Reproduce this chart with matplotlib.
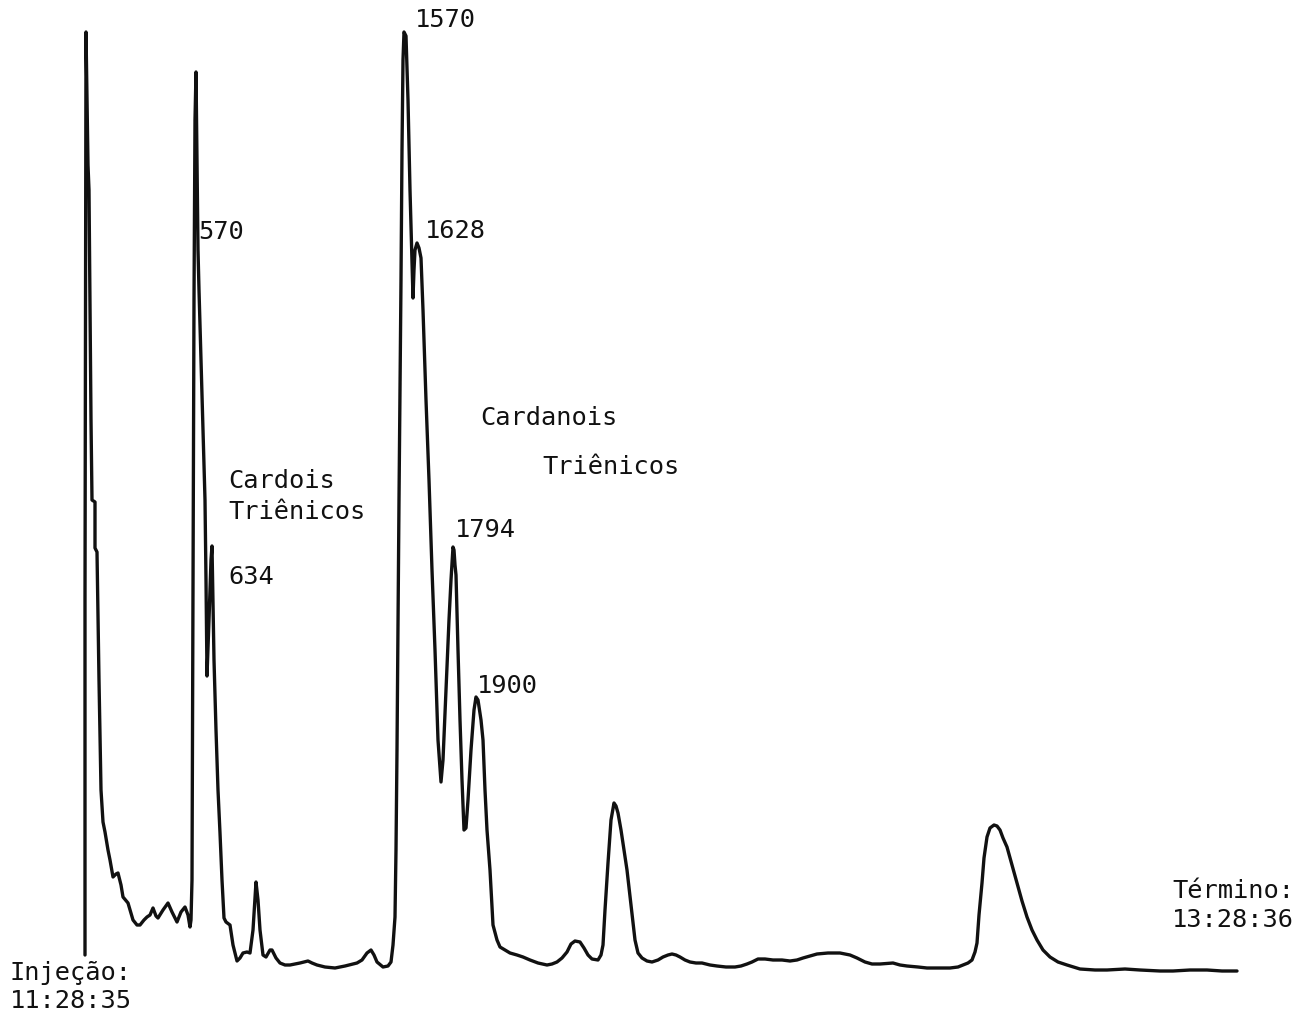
import matplotlib
matplotlib.use("Agg")
import matplotlib.pyplot as plt

# Chromatogram trace (retention in chart units, detector deflection above baseline)
retention = [
    85, 85, 86, 87, 88, 89, 90, 91, 92, 95, 95, 97, 99, 101, 103, 105, 108, 110, 113, 116,
    118, 121, 123, 128, 133, 137, 140, 144, 147, 150, 153, 156, 158, 163, 168, 172, 177, 181,
    185, 188, 190, 191, 192, 193, 194, 195, 196,
    197, 198, 199, 201, 203, 205, 206, 207, 209, 211, 212, 213, 214, 216, 218, 220, 222, 224,
    226, 230, 233, 237, 240, 243, 247, 250, 253, 256, 258, 260, 263, 266, 270, 272, 276, 280,
    285, 290, 300, 308, 312, 317, 325, 335, 345, 357, 362, 367, 371, 374, 377, 383, 388, 391,
    393, 395, 396, 397, 399, 401, 402, 403, 404,
    406, 408, 410, 412, 413, 414, 415, 417, 419, 421, 423, 426, 429, 432, 435, 438, 441, 443,
    446, 449, 451, 453, 454, 455, 456, 458, 460, 462, 464, 466, 468, 471, 474, 476, 478, 481,
    483, 485, 487, 490, 493, 497, 500, 505, 510, 517, 523, 530, 538, 547, 552, 557, 562, 567,
    571, 575, 580, 584, 588, 592, 598, 601, 603, 605, 608, 611, 614, 616, 618, 621, 624, 627,
    631, 635, 638, 642, 647, 652, 658, 663, 668, 672, 676, 680, 685, 690, 696, 702, 710, 717,
    726, 735, 741, 747, 752, 758, 765, 773, 782, 790, 797, 803, 810, 817, 828, 840, 850, 857,
    865, 872, 880, 893, 900, 907, 918, 927, 940, 950, 958, 963, 968, 972, 975, 977, 979, 982,
    984, 987, 990, 994, 997, 1000, 1003, 1007, 1012, 1017, 1022, 1027, 1032, 1037, 1043, 1050,
    1058, 1067, 1080, 1095, 1107, 1125, 1140, 1160, 1173, 1190, 1207, 1222, 1237,
]
signal = [
    16, 371, 939, 871, 806, 781, 671, 551, 471, 469, 423, 419, 291, 181, 149, 139, 121, 111, 94, 97,
    98, 86, 74, 68, 51, 46, 46, 51, 54, 56, 63, 55, 53, 61, 68, 59, 49, 59,
    64, 56, 44, 51, 91, 371, 671, 851, 899,
    811, 721, 681, 611, 541, 471, 391, 295, 351, 411, 425, 371, 311, 241, 181, 138, 91, 53,
    49, 46, 26, 10, 13, 18, 19, 18, 41, 89, 71, 41, 16, 14, 21, 21, 13, 8,
    6, 6, 8, 10, 8, 6, 4, 3, 5, 8, 11, 18, 21, 16, 9, 4, 5, 9,
    26, 54, 121, 221, 471, 691, 821, 911, 939,
    935, 871, 781, 711, 673, 701, 721, 728, 723, 713, 661, 571, 491, 401, 321, 231, 189, 211,
    281, 351, 391, 424, 421, 406, 396, 321, 251, 191, 141, 143, 171, 221, 261, 274, 271, 251,
    231, 181, 141, 101, 46, 31, 24, 21, 18, 16, 14, 11, 8, 6, 7, 9, 13, 19,
    27, 30, 29, 23, 16, 12, 11, 16, 26, 61, 108, 151, 168, 165, 158, 141, 121, 101,
    66, 31, 18, 13, 10, 9, 11, 14, 16, 17, 16, 14, 11, 9, 8, 8, 6, 5,
    4, 4, 5, 7, 9, 12, 12, 11, 11, 10, 11, 13, 15, 17, 18, 18, 16, 13,
    9, 7, 7, 8, 6, 5, 4, 3, 3, 3, 4, 6, 8, 11, 19, 28, 56, 88,
    113, 134, 143, 146, 145, 141, 133, 124, 106, 88, 70, 54, 41, 31, 21, 14,
    9, 6, 2, 1, 1, 2, 1, 0, 0, 1, 1, 0, 0,
]

peak_labels = ["570", "634", "1570", "1628", "1794", "1900"]
group_labels = [["Cardois", "Triênicos"], ["Cardanois", "Triênicos"]]
start_label = ["Injeção:", "11:28:35"]
end_label = ["Término:", "13:28:36"]

fig = plt.figure(figsize=(13, 10.16), dpi=100)
ax = fig.add_axes([0, 0, 1, 1])
ax.plot(retention, signal, color="#111111", lw=2.4, solid_joinstyle="round", solid_capstyle="round")
ax.set_xlim(0, 1300)
ax.set_ylim(-45, 971)
ax.axis("off")

fkw = dict(family="DejaVu Sans Mono", fontsize=18.3, color="#111111", ha="left", va="center")

peak_pos = [(198, 739), (228, 394), (415, 951), (425, 740), (455, 441), (477, 285)]
for lab, (x, y) in zip(peak_labels, peak_pos):
    ax.text(x, y, lab, **fkw)

group_pos = [[(228, 490), (228, 459)], [(480, 553), (542, 504)]]
for labs, poss in zip(group_labels, group_pos):
    for lab, (x, y) in zip(labs, poss):
        ax.text(x, y, lab, **fkw)

for lab, (x, y) in zip(start_label, [(10, -2), (10, -30)]):
    ax.text(x, y, lab, **fkw)
for lab, (x, y) in zip(end_label, [(1172, 80), (1172, 51)]):
    ax.text(x, y, lab, **fkw)

fig.savefig("out.png", dpi=100, facecolor="white")
